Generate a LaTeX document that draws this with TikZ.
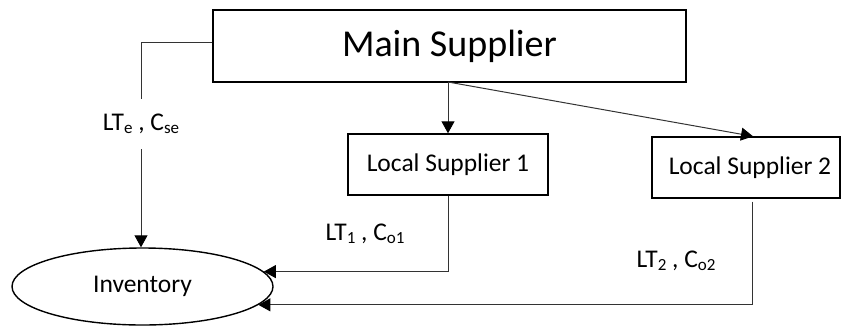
\documentclass[tikz,border=0pt]{standalone}
\usepackage{fontspec}
\setmainfont{Carlito}
\usetikzlibrary{arrows.meta,shapes.geometric}
\tikzset{
  boxnode/.style={draw=black,line width=1.4pt,rectangle,inner sep=0pt,align=center},
  conn/.style={draw=black!80,line width=1pt},
  arr/.style={conn,-{Triangle[width=13pt,length=12pt,black]}},
  lbl/.style={inner sep=0pt,font=\fontsize{25.5}{30}\selectfont},
  small/.style={font=\fontsize{25.5}{30}\selectfont}
}
\newcommand{\sbs}[1]{\raisebox{-0.12em}{\fontsize{17}{20}\selectfont #1}}
\begin{document}
\begin{tikzpicture}[x=1pt,y=-1pt]
\useasboundingbox (0,0) rectangle (842,327);
\node[boxnode,minimum width=473pt,minimum height=72pt,font=\fontsize{38}{44}\selectfont] (main) at (449.5,46) {Main Supplier};
\node[boxnode,small,minimum width=200pt,minimum height=61pt] (ls1) at (448,164.5) {Local Supplier 1};
\node[boxnode,small,minimum width=188pt,minimum height=61pt] (ls2) at (746,167.5) {\hspace*{8pt}Local Supplier 2};
\node[ellipse,draw=black,line width=1.4pt,small,minimum width=261pt,minimum height=77pt,inner sep=0pt] (inv) at (142.5,286.5) {Inventory};
\coordinate (c0) at (141,42);
\coordinate (sp) at (448,82);
% main -> inventory
\draw[arr] (c0 -| main.west) -- (c0) -- (c0 |- inv.north)
  node[pos=0.4,lbl,fill=white,minimum height=50pt] (le) {LT\sbs{e} , C\sbs{se}};
% main -> ls1
\draw[arr] (sp) -- (ls1.north);
% main -> ls2
\draw[arr] (sp) -- ([xshift=7pt]ls2.north);
% ls1 -> inventory
\draw[arr] (ls1.south) |- (inv.7);
% ls2 -> inventory
\draw[arr] ([xshift=6pt,yshift=-3pt]ls2.south) |- (inv.-9);
\node[lbl] (l1) at (365,234) {LT\sbs{1} , C\sbs{o1}};
\node[lbl] (l2) at (676,261) {LT\sbs{2} , C\sbs{o2}};
\end{tikzpicture}
\end{document}
